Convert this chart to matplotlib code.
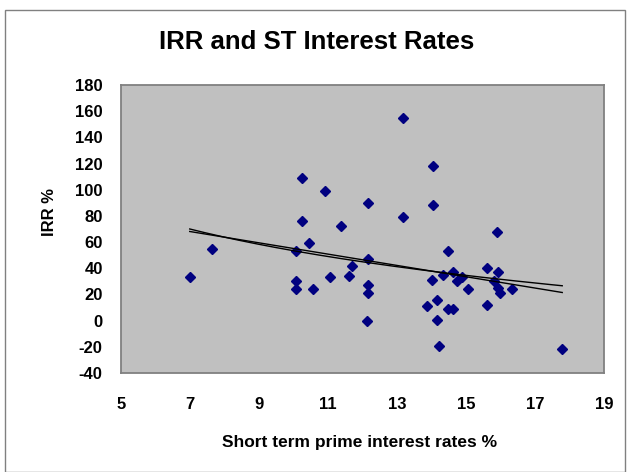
import numpy as np
import matplotlib
matplotlib.use("Agg")
import matplotlib.pyplot as plt
from matplotlib.patches import Rectangle

plt.rcParams['font.family'] = ['Liberation Sans', 'DejaVu Sans']

title = "IRR and ST Interest Rates"
x_label = "Short term prime interest rates %"
y_label = "IRR %"

rate = [7.0, 7.65, 10.26, 10.92, 10.26, 11.38, 10.45, 10.08, 10.08, 10.08,
        10.58, 11.06, 11.62, 11.70, 13.19, 14.04, 12.17, 14.04, 13.19, 15.89,
        14.47, 12.17, 12.17, 12.17, 12.14, 14.03, 14.33, 14.62, 14.75, 14.90,
        15.07, 14.17, 13.86, 14.47, 14.64, 14.17, 14.23, 15.60, 15.94, 15.80,
        15.94, 15.99, 16.33, 15.60, 17.79]
irr = [33, 55, 109, 99, 76, 72, 59, 53, 30, 24,
       24, 33, 34, 42, 155, 118, 90, 88, 79, 68,
       53, 47, 27, 21, 0, 31, 35, 37, 30, 33,
       24, 16, 11, 9, 9, 0.5, -19, 40, 37, 30,
       25, 21, 24, 12, -22]

x_ticks = [5, 7, 9, 11, 13, 15, 17, 19]
y_ticks = [-40, -20, 0, 20, 40, 60, 80, 100, 120, 140, 160, 180]

W, H = 633, 472
fig = plt.figure(figsize=(W / 100, H / 100), dpi=100)
fig.patch.set_facecolor('white')

# chart border
fig.patches.append(Rectangle((5 / W, 0.0), 620 / W, (H - 9.5) / H, transform=fig.transFigure,
                             fill=False, edgecolor='#808080', linewidth=1.0))

ax = fig.add_axes([120.7 / W, 1 - 373 / H, (604 - 120.7) / W, (373 - 85) / H])
ax.set_facecolor('#C0C0C0')
for s in ax.spines.values():
    s.set_edgecolor('#808080')
    s.set_linewidth(1.3)

x = np.array(rate, dtype=float)
y = np.array(irr, dtype=float)

ax.plot(x, y, linestyle='none', marker='D', markersize=5.6, color='#000080',
        markeredgecolor='#000080')

# trendlines: linear and logarithmic
xs = np.linspace(x.min(), x.max(), 200)
b1, a1 = np.polyfit(x, y, 1)
ax.plot(xs, a1 + b1 * xs, color='black', linewidth=1.0)
b2, a2 = np.polyfit(np.log(x), y, 1)
ax.plot(xs, a2 + b2 * np.log(xs), color='black', linewidth=1.0)

ax.set_xlim(5, 19)
ax.set_ylim(-40, 180)
ax.set_xticks(x_ticks)
ax.set_yticks(y_ticks)
ax.set_xticklabels([str(v) for v in x_ticks], fontsize=12, fontweight='bold')
ax.set_yticklabels([str(v) for v in y_ticks], fontsize=12, fontweight='bold')
ax.tick_params(axis='both', length=0)
ax.tick_params(axis='x', pad=17)
ax.tick_params(axis='y', pad=13)

fig.text(360 / W, 1 - 442 / H, x_label, ha='center', va='center',
         fontsize=12.5, fontweight='bold')
fig.text(50 / W, 1 - 212 / H, y_label, ha='center', va='center', rotation=90,
         fontsize=12, fontweight='bold')
fig.text(317 / W, 1 - 42 / H, title, ha='center', va='center',
         fontsize=18.5, fontweight='bold')

fig.savefig('out.png', dpi=100)
